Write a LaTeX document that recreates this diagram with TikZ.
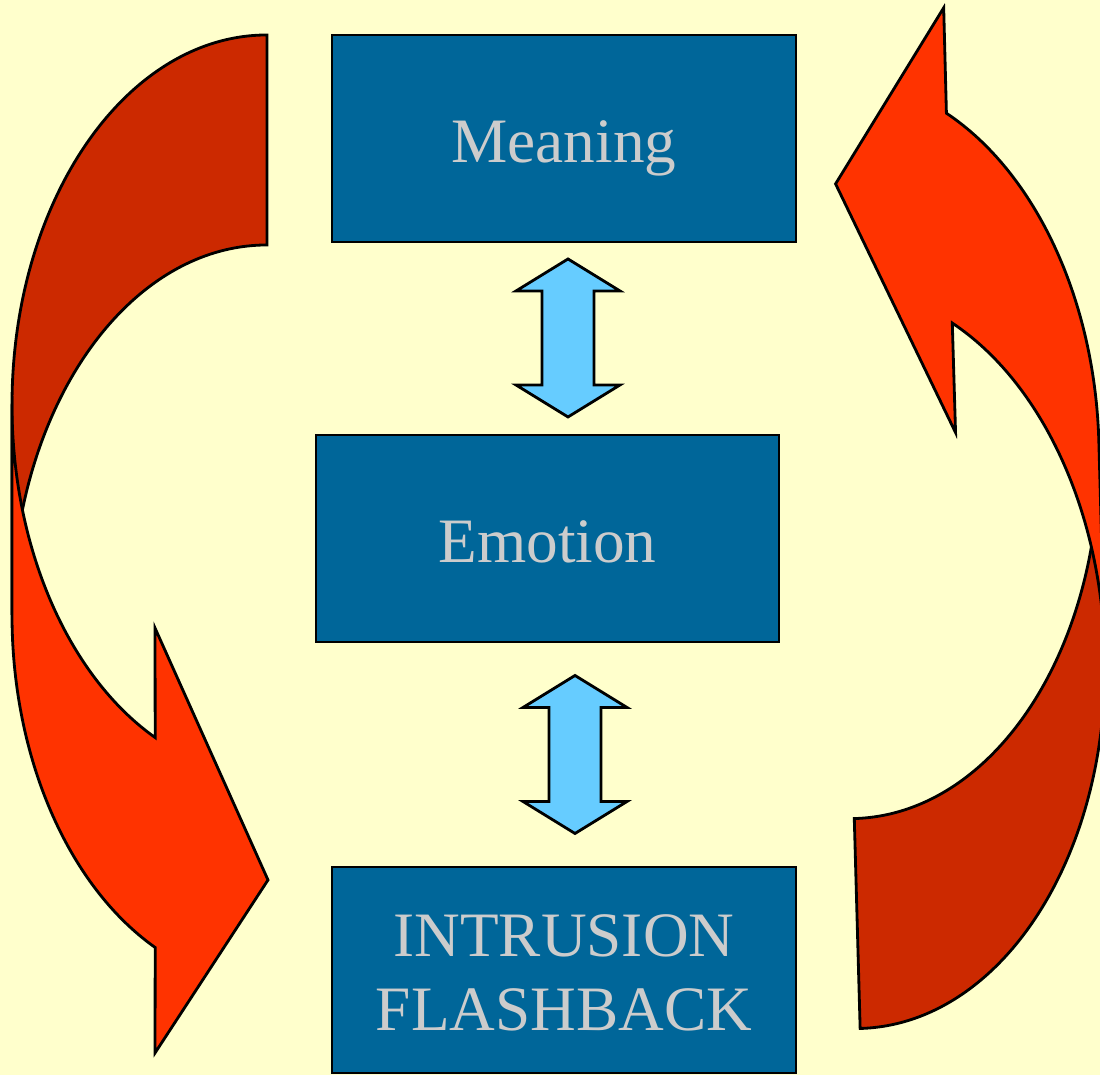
\documentclass[tikz,border=0pt]{standalone}
\usepackage{fontspec}
\setmainfont{Liberation Serif}
\usepackage{tikz}

\definecolor{paper}{HTML}{FFFFCC}
\definecolor{boxblue}{HTML}{006699}
\definecolor{labelgray}{HTML}{CCCCCC}
\definecolor{backred}{HTML}{CC2900}
\definecolor{frontred}{HTML}{FF3300}
\definecolor{skyblue}{HTML}{66CCFF}

\begin{document}
\begin{tikzpicture}[
    stage/.style={draw, fill=boxblue, text=labelgray, minimum width=4.64cm, minimum height=2.07cm, align=center,
        font=\fontsize{18}{21.3}\selectfont, text height=0.48cm, text depth=0pt, line width=0.8pt},
    twoway/.pic={
        \draw[fill=skyblue, line width=0.8pt] (0,0.79) -- (0.52,0.47) -- (0.26,0.47) -- (0.26,-0.47) -- (0.52,-0.47) -- (0,-0.79)
            -- (-0.52,-0.47) -- (-0.26,-0.47) -- (-0.26,0.47) -- (-0.52,0.47) -- cycle;
    },
    bendarrow/.pic={
        % back face, then the front face with its head
        \draw[fill=backred, line width=0.8pt] (2.67,10.40) arc[start angle=90, end angle=180, x radius=2.55, y radius=3.70]
            -- (0.12,4.60) arc[start angle=180, end angle=90, x radius=2.55, y radius=3.70] -- cycle;
        \draw[fill=frontred, line width=0.8pt] (0.12,6.70) -- (0.12,4.60) arc[start angle=180, end angle=244, x radius=2.55, y radius=3.70]
            -- (1.55,0.22) -- (2.68,1.95) -- (1.55,4.47) -- (1.552,3.374)
            arc[start angle=244, end angle=180, x radius=2.55, y radius=3.70] -- cycle;
    }
]
\fill[paper] (0,0) rectangle (11,10.75);
\useasboundingbox (0,0) rectangle (11,10.75);

\pic at (0,0) {bendarrow};
\pic[rotate=181.6] at (10.98,10.935) {bendarrow};

\node[stage] (meaning) at (5.64,9.365) {Meaning};
\node[stage, minimum width=4.63cm] (emotion) at (5.475,5.365) {Emotion};
\node[stage, minimum height=2.06cm, text height=1.22cm] (intrusion) at (5.64,1.05) {INTRUSION\\FLASHBACK};

\pic at (5.68,7.37) {twoway};
\pic at (5.75,3.205) {twoway};
\end{tikzpicture}
\end{document}
